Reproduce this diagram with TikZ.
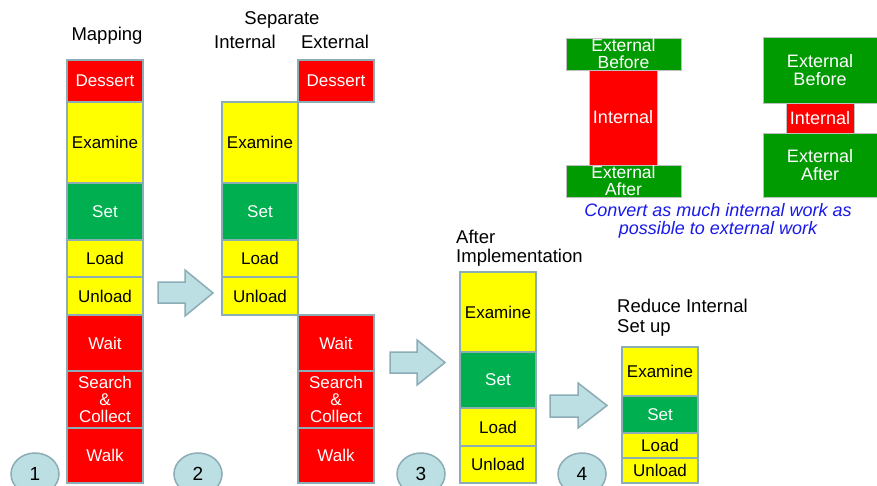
\documentclass[tikz,border=0pt]{standalone}
\usepackage{fontspec}
\setmainfont{Liberation Sans}
\usetikzlibrary{shapes.geometric}
\definecolor{rd}{RGB}{255,0,0}
\definecolor{yl}{RGB}{255,255,0}
\definecolor{gn}{RGB}{0,176,80}
\definecolor{gntwo}{RGB}{0,155,0}
\definecolor{edgec}{RGB}{140,172,182}
\definecolor{lb}{RGB}{188,223,227}
\definecolor{bl}{RGB}{25,25,235}
\tikzset{
  blk/.style={draw=edgec, line width=1.5pt, minimum width=76pt, inner sep=0pt,
    font=\fontsize{17}{17}\selectfont, align=center},
  redb/.style={blk, fill=rd, text=white},
  yelb/.style={blk, fill=yl, text=black},
  grnb/.style={blk, fill=gn, text=white},
  trb/.style={draw=black!25, line width=0.6pt, inner sep=0pt, align=center, text=white},
  lbl/.style={font=\fontsize{18.5}{22}\selectfont, inner sep=0pt},
  bigarrow/.style={fill=lb, draw=edgec, line width=1.5pt, line join=miter},
  numell/.style={ellipse, fill=lb, draw=edgec, line width=1.5pt, minimum width=48pt, minimum height=42pt, inner sep=0pt, font=\fontsize{19}{19}\selectfont}
}
\begin{document}
\begin{tikzpicture}[x=1pt,y=-1pt]
\useasboundingbox (0,0) rectangle (877,486);
\clip (0,0) rectangle (877,486);
\fill[white] (0,0) rectangle (877,486);

% number ellipses
\node[numell] (n1) at (35,474) {1};
\node[numell] (n2) at (198,474) {2};
\node[numell] (n3) at (421,474) {3};
\node[numell] (n4) at (582,474) {4};

% column 1
\node[lbl] (tmap) at (107,36) {Mapping};
\node[redb, minimum height=42pt] (d1) at (105,81) {Dessert};
\node[yelb, minimum height=81pt] (e1) at (105,142.5) {Examine};
\node[grnb, minimum height=57pt] (s1) at (105,211.5) {Set};
\node[yelb, minimum height=37pt] (l1) at (105,258.5) {Load};
\node[yelb, minimum height=38pt] (u1) at (105,296) {Unload};
\node[redb, minimum height=56pt] (w1) at (105,343) {Wait};
\node[redb, minimum height=57pt] (sc1) at (105,399.5) {Search\\\&\\Collect};
\node[redb, minimum height=55pt] (wk1) at (105,455.5) {Walk};

% column 2
\node[lbl] (tsep) at (282,20) {Separate};
\node[lbl] (tint) at (245,42) {Internal};
\node[lbl] (text) at (335,42) {External};
\node[redb, minimum height=42pt] (d2) at (336,81) {Dessert};
\node[yelb, minimum height=81pt] (e2) at (260,142.5) {Examine};
\node[grnb, minimum height=57pt] (s2) at (260,211.5) {Set};
\node[yelb, minimum height=37pt] (l2) at (260,258.5) {Load};
\node[yelb, minimum height=38pt] (u2) at (260,296) {Unload};
\node[redb, minimum height=56pt] (w2) at (336,343) {Wait};
\node[redb, minimum height=57pt] (sc2) at (336,399.5) {Search\\\&\\Collect};
\node[redb, minimum height=55pt] (wk2) at (336,455.5) {Walk};

% column 3
\node[lbl, anchor=west] (tafter) at (456,237) {After};
\node[lbl, anchor=west] (timpl) at (456,258) {Implementation};
\node[yelb, minimum height=80pt] (e3) at (498,312) {Examine};
\node[grnb, minimum height=56pt] (s3) at (498,380) {Set};
\node[yelb, minimum height=38pt] (l3) at (498,427) {Load};
\node[yelb, minimum height=37pt] (u3) at (498,464.5) {Unload};

% column 4
\node[lbl, anchor=west] (tred) at (617,306) {Reduce Internal};
\node[lbl, anchor=west] (tsetup) at (617,328) {Set up};
\node[yelb, minimum height=49pt] (e4) at (660,371.5) {Examine};
\node[grnb, minimum height=37pt] (s4) at (660,414.5) {Set};
\node[yelb, minimum height=25pt] (l4) at (660,445.5) {Load};
\node[yelb, minimum height=25pt] (u4) at (660,470.5) {Unload};

% block arrows
\draw[bigarrow] (158,282) -- (185,282) -- (185,270) -- (213,293) -- (185,316) -- (185,303) -- (158,303) -- cycle;
\draw[bigarrow] (390,352) -- (417,352) -- (417,340) -- (445,362.5) -- (417,385) -- (417,373) -- (390,373) -- cycle;
\draw[bigarrow] (550,395) -- (578,395) -- (578,383) -- (607,405.5) -- (578,428) -- (578,417) -- (550,417) -- cycle;

% top right: left group
\node[trb, fill=rd, minimum width=68pt, minimum height=96pt, font=\fontsize{18}{18}\selectfont] (in1) at (623,117) {Internal};
\node[trb, fill=gntwo, minimum width=115pt, minimum height=32pt, font=\fontsize{17.5}{17}\selectfont] (eb1) at (623.5,54) {External\\Before};
\node[trb, fill=gntwo, minimum width=115pt, minimum height=32pt, font=\fontsize{17.5}{17}\selectfont] (ea1) at (623.5,181) {External\\After};

% top right: right group
\node[trb, fill=gntwo, minimum width=114pt, minimum height=66pt, font=\fontsize{18}{18.5}\selectfont] (eb2) at (820,70) {External\\Before};
\node[trb, fill=rd, minimum width=68pt, minimum height=30pt, font=\fontsize{18}{18}\selectfont] (in2) at (820,118) {Internal};
\node[trb, fill=gntwo, minimum width=114pt, minimum height=64pt, font=\fontsize{18}{17.5}\selectfont] (ea2) at (820,165) {External\\After};

\node[text=bl, align=center, inner sep=0pt, font=\fontsize{18}{18}\selectfont\itshape] (conv) at (718,221) {Convert as much internal work as\\possible to external work};
\end{tikzpicture}
\end{document}
